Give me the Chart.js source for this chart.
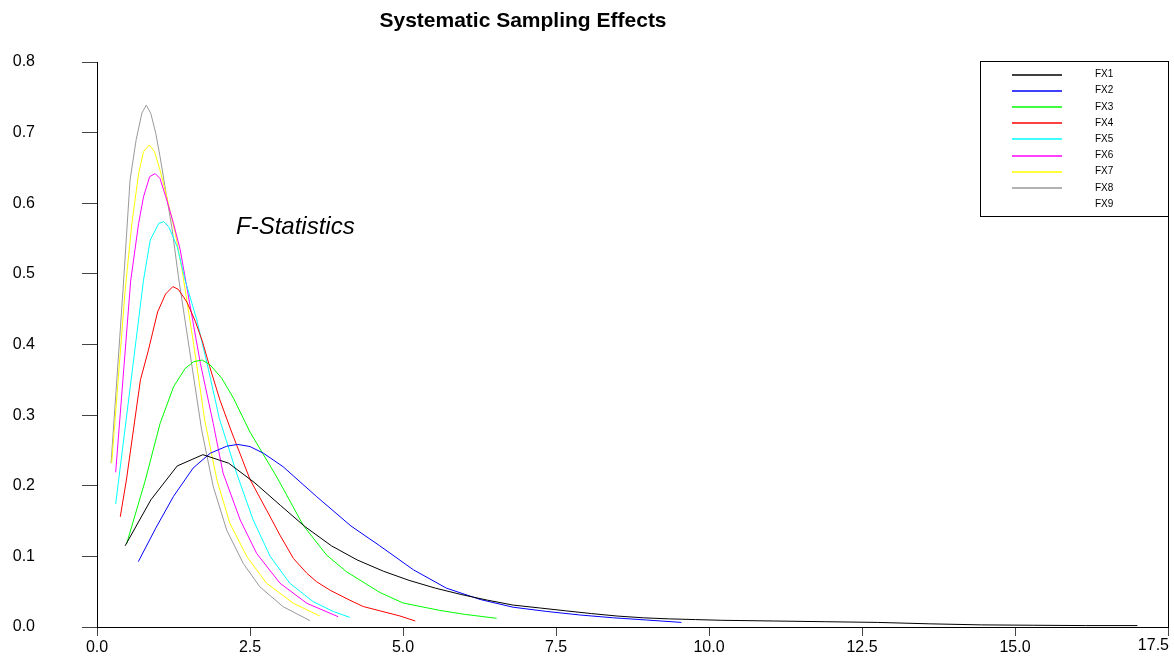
<!DOCTYPE html>
<html><head><meta charset="utf-8">
<script src="https://cdn.jsdelivr.net/npm/chart.js@4/dist/chart.umd.min.js"></script>
<style>html,body{margin:0;padding:0;background:#fff;}#wrap{width:1174px;height:669px;position:relative;}</style>
</head><body><div id="wrap"><canvas id="c" width="1174" height="669"></canvas></div>
<script>
const chartTitle = 'Systematic Sampling Effects';
const noteText = 'F-Statistics';
const seriesLabels = ['FX1','FX2','FX3','FX4','FX5','FX6','FX7','FX8','FX9'];
const seriesColors = ['#000000','#0000ff','#00ff00','#ff0000','#00ffff','#ff00ff','#ffff00','#999999','rgba(0,0,0,0)'];
const xTickValues = [0,2.5,5,7.5,10,12.5,15,17.5];
const yTickValues = [0,0.1,0.2,0.3,0.4,0.5,0.6,0.7,0.8];

const fx1X = [0.46,0.88,1.31,1.73,2.15,2.58,3.0,3.4,3.83,4.25,4.68,5.1,5.53,5.95,6.38,6.8,7.23,7.65,8.08,8.5,8.93,9.35,9.78,10.2,11.05,11.9,12.75,13.6,14.45,15.3,16.15,17.0];
const fx1Y = [0.115,0.180,0.228,0.244,0.232,0.204,0.172,0.142,0.115,0.095,0.079,0.066,0.055,0.046,0.038,0.031,0.027,0.023,0.019,0.0155,0.013,0.0115,0.0105,0.0095,0.0085,0.0075,0.0065,0.0045,0.003,0.0025,0.002,0.002];
const fx2X = [0.675,0.96,1.25,1.57,1.85,2.12,2.3,2.5,2.72,3.04,3.59,4.15,4.62,5.17,5.71,6.26,6.8,7.35,7.89,8.44,8.98,9.55];
const fx2Y = [0.0925,0.14,0.185,0.225,0.246,0.256,0.2585,0.2555,0.246,0.227,0.1845,0.143,0.115,0.081,0.055,0.039,0.028,0.022,0.017,0.013,0.0099,0.0065];
const fx3X = [0.485,0.79,1.03,1.25,1.44,1.58,1.72,1.85,2.04,2.23,2.5,2.94,3.37,3.75,4.08,4.62,5.0,5.6,6.0,6.53];
const fx3Y = [0.118,0.208,0.288,0.34,0.366,0.3757,0.378,0.371,0.352,0.324,0.276,0.212,0.144,0.102,0.078,0.049,0.034,0.0235,0.018,0.0123];
const fx4X = [0.38,0.48,0.71,0.84,0.99,1.12,1.24,1.33,1.47,1.61,1.72,1.84,2.01,2.2,2.5,2.83,2.99,3.21,3.43,3.59,3.81,4.13,4.35,4.95,5.2];
const fx4Y = [0.156,0.208,0.35,0.392,0.446,0.4715,0.482,0.478,0.46,0.432,0.405,0.369,0.321,0.276,0.209,0.156,0.130,0.097,0.076,0.064,0.052,0.038,0.029,0.0156,0.0085];
const fx5X = [0.305,0.76,0.87,1.01,1.09,1.17,1.31,1.44,1.63,1.82,2.0,2.28,2.55,2.83,3.15,3.53,3.86,4.13];
const fx5Y = [0.174,0.491,0.548,0.5715,0.574,0.567,0.5385,0.491,0.435,0.365,0.295,0.218,0.152,0.1,0.062,0.036,0.022,0.0137];
const fx6X = [0.305,0.55,0.68,0.76,0.86,0.95,1.03,1.14,1.25,1.36,1.47,1.69,1.9,2.06,2.34,2.61,2.99,3.43,3.94];
const fx6Y = [0.219,0.49,0.5715,0.609,0.6376,0.642,0.635,0.6046,0.5715,0.534,0.48,0.373,0.288,0.218,0.1515,0.104,0.062,0.0335,0.0146];
const fx7X = [0.24,0.46,0.57,0.68,0.76,0.855,0.94,1.03,1.14,1.28,1.39,1.58,1.76,1.96,2.17,2.45,2.77,3.21,3.64];
const fx7Y = [0.232,0.477,0.5715,0.642,0.673,0.6825,0.673,0.647,0.609,0.557,0.5055,0.40,0.293,0.208,0.147,0.0996,0.062,0.0335,0.0156];
const fx8X = [0.23,0.425,0.54,0.64,0.735,0.806,0.88,0.96,1.03,1.12,1.23,1.33,1.71,1.9,2.12,2.39,2.66,3.04,3.48];
const fx8Y = [0.232,0.477,0.633,0.69,0.728,0.739,0.727,0.699,0.666,0.619,0.562,0.496,0.279,0.1987,0.137,0.09,0.057,0.0288,0.009];
const fx9X = [];
const fx9Y = [];

const seriesX = [fx1X,fx2X,fx3X,fx4X,fx5X,fx6X,fx7X,fx8X,fx9X];
const seriesY = [fx1Y,fx2Y,fx3Y,fx4Y,fx5Y,fx6Y,fx7Y,fx8Y,fx9Y];

const FONT = "'Liberation Sans', Arial, sans-serif";

const datasets = seriesLabels.map((lab,i)=>({
  label: lab,
  data: seriesX[i].map((x,j)=>({x:x,y:seriesY[i][j]})),
  borderColor: seriesColors[i],
  backgroundColor: seriesColors[i],
  borderWidth: 1,
  pointRadius: 0,
  tension: 0,
  fill: false
}));

const decorPlugin = {
  id: 'decor',
  afterDraw(chart){
    const ctx = chart.ctx;
    const ca = chart.chartArea;
    ctx.save();
    ctx.fillStyle = '#000';
    ctx.font = 'bold 21px ' + FONT;
    ctx.textAlign = 'center';
    ctx.textBaseline = 'middle';
    ctx.fillText(chartTitle, 523, 21);
    ctx.font = 'italic 24px ' + FONT;
    ctx.textAlign = 'left';
    ctx.fillText(noteText, 236, 227);
    ctx.strokeStyle = '#000';
    ctx.lineWidth = 1;
    ctx.beginPath();
    ctx.moveTo(Math.round(ca.right)+0.5, ca.top - 1);
    ctx.lineTo(Math.round(ca.right)+0.5, ca.bottom);
    ctx.stroke();
    const xs = chart.scales.x;
    const last = xTickValues[xTickValues.length-1];
    ctx.font = '16px ' + FONT;
    ctx.textAlign = 'right';
    ctx.textBaseline = 'top';
    ctx.fillText(last.toFixed(1), xs.getPixelForValue(last)+1, ca.bottom + 11);
    const bx = 980, by = 61, bw = 188, bh = 155;
    ctx.fillStyle = '#fff';
    ctx.fillRect(bx, by, bw, bh);
    ctx.strokeStyle = '#000';
    ctx.strokeRect(bx+0.5, by+0.5, bw, bh);
    ctx.font = '10px ' + FONT;
    ctx.textAlign = 'left';
    ctx.textBaseline = 'middle';
    chart.data.datasets.forEach((ds,i)=>{
      const yy = 74.5 + i*16.2;
      ctx.strokeStyle = ds.borderColor;
      ctx.lineWidth = 1.5;
      ctx.beginPath();
      ctx.moveTo(1012, Math.round(yy));
      ctx.lineTo(1062, Math.round(yy));
      ctx.stroke();
      ctx.fillStyle = '#000';
      ctx.fillText(ds.label, 1095, yy);
    });
    ctx.restore();
  }
};

new Chart(document.getElementById('c'), {
  type: 'line',
  data: { datasets: datasets },
  plugins: [decorPlugin],
  options: {
    responsive: false,
    devicePixelRatio: 1,
    animation: false,
    layout: { padding: { top: 62, right: 6, left: 0, bottom: 0 } },
    plugins: { legend: { display: false }, title: { display: false }, tooltip: { enabled: false } },
    scales: {
      x: {
        type: 'linear', min: 0, max: 17.5,
        afterBuildTicks(s){ s.ticks = xTickValues.map(v=>({value:v})); },
        afterFit(s){ s.height = 42; s.paddingLeft = 0; s.paddingRight = 0; },
        ticks: {
          font: { family: FONT, size: 16 }, color: '#000', padding: 2, maxRotation: 0, autoSkip: false,
          callback: (v)=> v === xTickValues[xTickValues.length-1] ? '' : Number(v).toFixed(1)
        },
        grid: { drawOnChartArea: false, drawTicks: true, tickLength: 9, color: '#444' },
        border: { display: true, color: '#000', width: 1 }
      },
      y: {
        type: 'linear', min: 0, max: 0.8,
        afterBuildTicks(s){ s.ticks = yTickValues.map(v=>({value:v})); },
        afterFit(s){ s.width = 97; s.paddingTop = 0; s.paddingBottom = 0; },
        ticks: {
          font: { family: FONT, size: 16 }, color: '#000', padding: 47,
          callback: (v)=> Number(v).toFixed(1)
        },
        grid: { drawOnChartArea: false, drawTicks: true, tickLength: 15, color: '#444' },
        border: { display: true, color: '#000', width: 1 }
      }
    }
  }
});
</script>
</body></html>
